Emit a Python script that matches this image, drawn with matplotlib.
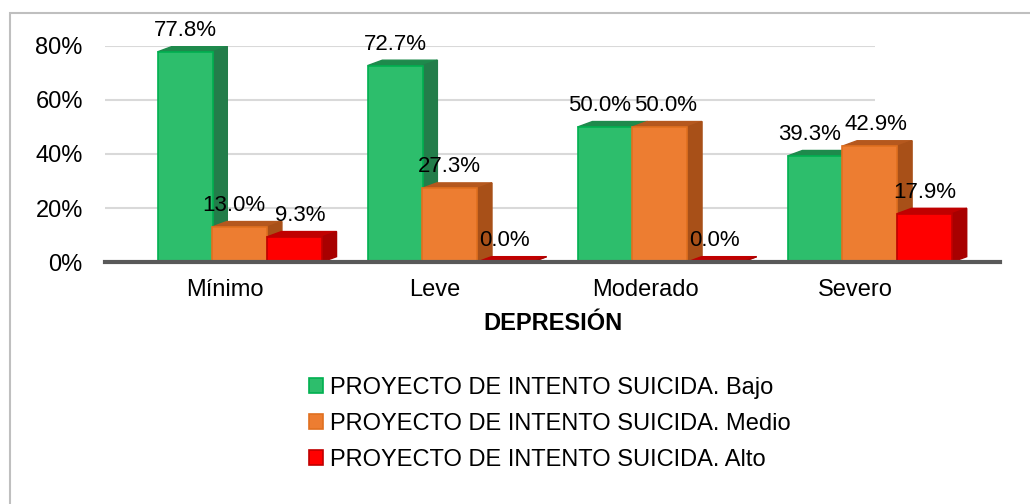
import matplotlib.pyplot as plt
import numpy as np
from matplotlib.patches import Rectangle, Polygon

plt.rcParams["font.family"] = ["Liberation Sans", "DejaVu Sans"]

categories = ["Mínimo", "Leve", "Moderado", "Severo"]
series_names = ["PROYECTO DE INTENTO SUICIDA. Bajo",
                "PROYECTO DE INTENTO SUICIDA. Medio",
                "PROYECTO DE INTENTO SUICIDA. Alto"]
bajo = [77.8, 72.7, 50.0, 39.3]
medio = [13.0, 27.3, 50.0, 42.9]
alto = [9.3, 0.0, 0.0, 17.9]
values = [bajo, medio, alto]
yticks = [0, 20, 40, 60, 80]

face = ["#2DBE6C", "#ED7D31", "#FF0000"]
edge = ["#00B050", "#E07020", "#C00000"]
top_c = ["#1E8A4C", "#B5581E", "#C00000"]
side_c = ["#237D4A", "#A85018", "#A80000"]

fig = plt.figure(figsize=(10.3, 5.04), dpi=100)
fig.patches.append(Rectangle((10 / 1030, -0.1), 1.2, 1 - 13 / 504 + 0.1,
                             transform=fig.transFigure, fill=False,
                             ec="#bfbfbf", lw=1.5))

ax = fig.add_axes([0.102, 0.480, 0.869, 0.429])
x = np.arange(len(categories))
w = 0.262
offs = [-0.19, 0.07, 0.33]
dx, dy = 0.07, 2.0

# horizontal nudge (points) for labels of neighbouring bars of similar height
nudge = np.zeros((3, len(categories)))
for i in range(len(categories)):
    for s in range(2):
        if abs(values[s][i] - values[s + 1][i]) < 8:
            nudge[s][i] -= 4
            nudge[s + 1][i] += 4

for s in range(3):
    xs = x + offs[s]
    ax.bar(xs, values[s], w, color=face[s], edgecolor=edge[s],
           lw=1.2, zorder=3 + s, label=series_names[s])
    for i, (xi, v) in enumerate(zip(xs, values[s])):
        l, r = xi - w / 2, xi + w / 2
        ax.add_patch(Polygon([(l, v), (r, v), (r + dx, v + dy), (l + dx, v + dy)],
                             closed=True, fc=top_c[s], ec=top_c[s], zorder=2.5 + s))
        ax.add_patch(Polygon([(r, 0), (r + dx, dy), (r + dx, v + dy), (r, v)],
                             closed=True, fc=side_c[s], ec=side_c[s], zorder=2.5 + s))
        ax.annotate(f"{v:.1f}%", (xi, v + dy), xytext=(nudge[s][i], 4),
                    textcoords="offset points", ha="center", va="bottom",
                    fontsize=16, zorder=10)

ax.set_xlim(-0.571, 3.69)
ax.set_ylim(0, 80)
ax.set_yticks(yticks)
ax.set_yticklabels([f"{t}%" for t in yticks])
ax.set_xticks(x)
ax.set_xticklabels(categories)
ax.tick_params(length=0, labelsize=17, pad=12)
ax.tick_params(axis="y", pad=16)
ax.hlines(yticks[1:], -0.571, 3.095, color="#d9d9d9", lw=1.5, zorder=0)
for sp in ["top", "right", "left"]:
    ax.spines[sp].set_visible(False)
ax.spines["bottom"].set_color("#595959")
ax.spines["bottom"].set_linewidth(3)
ax.spines["bottom"].set_zorder(8)
ax.set_xlabel("DEPRESIÓN", fontsize=17, fontweight="bold", labelpad=8)

handles, labels = ax.get_legend_handles_labels()
fig.legend(handles, labels, loc="center", bbox_to_anchor=(0.534, 0.159),
           frameon=False, fontsize=17, handlelength=0.6, handleheight=0.6,
           handletextpad=0.3, labelspacing=0.58)

fig.savefig("out.png", dpi=100)
